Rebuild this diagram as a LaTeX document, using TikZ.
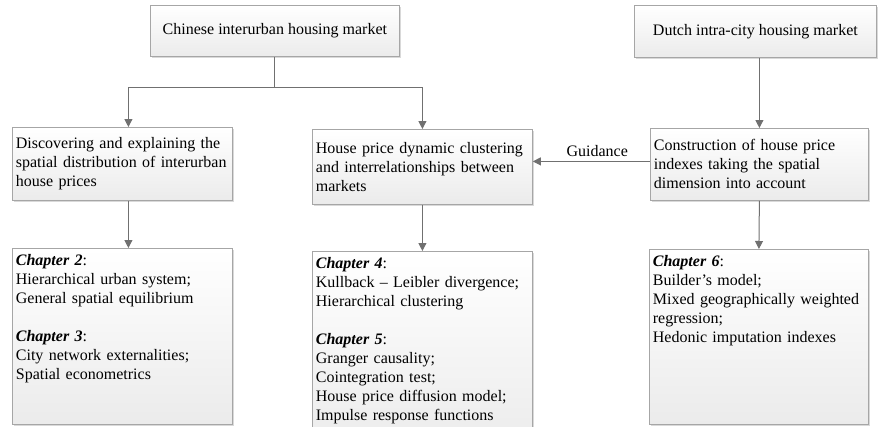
\documentclass[tikz,border=0pt]{standalone}
\usepackage{fontspec}
\setmainfont{Liberation Serif}
\usetikzlibrary{arrows.meta,shadows}
\definecolor{boxline}{HTML}{A6A6A6}
\definecolor{boxfill}{HTML}{EBEBEB}
\definecolor{arrline}{HTML}{707070}
\newcommand{\chap}[1]{\textbf{\textit{Chapter #1}}:}
\begin{document}
\begin{tikzpicture}[x=1pt,y=-1pt,
    box/.style={draw=boxline,line width=0.8pt,top color=white,bottom color=boxfill,
      drop shadow={shadow xshift=1.5pt,shadow yshift=-1.5pt,fill=black!15,opacity=1},
      anchor=north west,inner xsep=3.5pt,inner ysep=4pt,font=\fontsize{16}{19}\selectfont},
    titlebox/.style={box,align=center},
    midbox/.style={box,align=left,text width=213pt,minimum width=220pt},
    chapbox/.style={box,align=left,text width=213pt,text height=13pt},
    arr/.style={draw=arrline,line width=1pt,-{Triangle[length=8pt,width=8pt]}},
    link/.style={draw=arrline,line width=1pt}]
    \useasboundingbox (0,0) rectangle (878,426);
    % top row
    \node[titlebox,minimum width=249pt,minimum height=51pt] (china) at (150,5) {Chinese interurban housing market};
    \node[titlebox,minimum width=242pt,minimum height=52pt] (dutch) at (634,5) {Dutch intra-city housing market};
    % middle row
    \node[midbox,minimum height=73pt] (disc) at (12,127) {Discovering and explaining the\\spatial distribution of interurban\\house prices};
    \node[midbox,minimum height=75pt] (dyn) at (312,129) {House price dynamic clustering\\and interrelationships between\\markets};
    \node[midbox,minimum width=218pt,text width=211pt,minimum height=72pt] (cons) at (650,128) {Construction of house price\\indexes taking the spatial\\dimension into account};
    % chapters
    \node[chapbox,text depth=155pt] (ch23) at (12,248) {\chap{2}\\Hierarchical urban system;\\General spatial equilibrium\\[19pt]\chap{3}\\City network externalities;\\Spatial econometrics};
    \node[chapbox,text depth=180pt] (ch45) at (312,251) {\chap{4}\\Kullback -- Leibler divergence;\\Hierarchical clustering\\[19pt]\chap{5}\\Granger causality;\\Cointegration test;\\House price diffusion model;\\Impulse response functions};
    \node[chapbox,text width=212pt,text depth=154pt] (ch6) at (649,249) {\chap{6}\\Builder’s model;\\Mixed geographically weighted\\regression;\\Hedonic imputation indexes};
    % connectors
    \coordinate (split) at (china.south |- 0,87);
    \draw[link] (china.south) -- (split);
    \draw[arr] (split) -| ([xshift=6pt]disc.north);
    \draw[arr] (split) -| (dyn.north);
    \draw[arr] ([xshift=6pt]disc.south) -- ([xshift=6pt]ch23.north);
    \draw[arr] (dyn.south) -- (ch45.north);
    \draw[arr] (cons.north |- dutch.south) -- (cons.north);
    \draw[arr] (cons.south) -- (ch6.north);
    \draw[arr] ([yshift=3pt]cons.west) -- node[pos=0.45,above=1pt,font=\fontsize{16}{19}\selectfont] (guide) {Guidance} ([yshift=3pt]cons.west -| dyn.east);
\end{tikzpicture}
\end{document}
